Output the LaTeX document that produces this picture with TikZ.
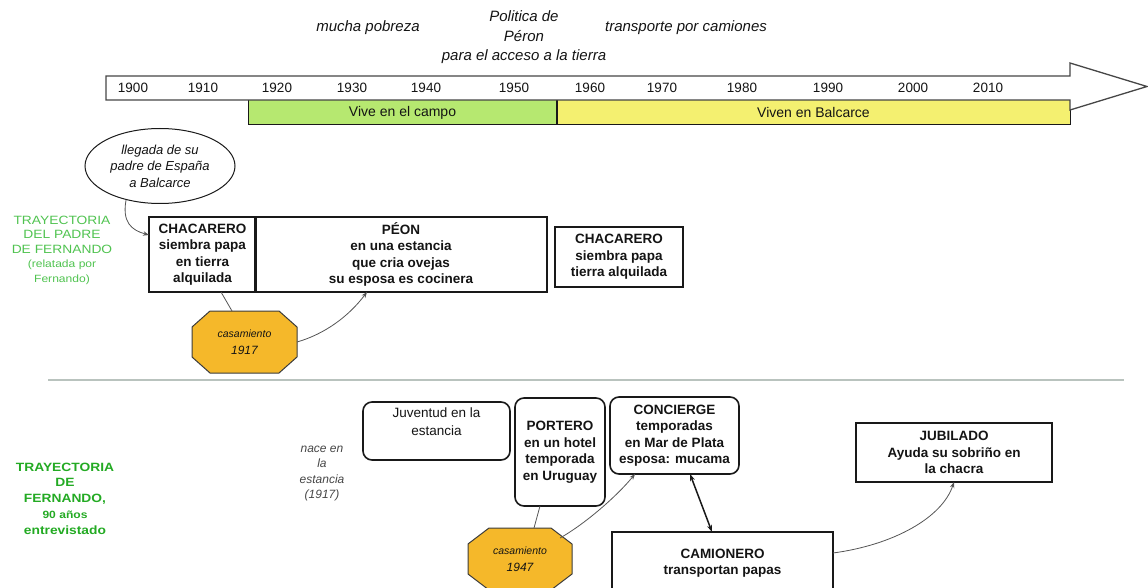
\documentclass[tikz,border=0pt]{standalone}
\usepackage{fontspec}
\setmainfont{Liberation Sans}
\newfontfamily\widesans[FakeStretch=1.15]{Liberation Sans}
\usetikzlibrary{shapes.geometric,arrows.meta,calc,backgrounds}
\definecolor{edge}{RGB}{25,25,25}
\definecolor{txt}{RGB}{20,20,20}
\definecolor{tl}{RGB}{70,70,70}
\definecolor{greenbar}{RGB}{182,232,112}
\definecolor{yellowbar}{RGB}{244,240,112}
\definecolor{gold}{RGB}{245,184,42}
\definecolor{lblgreen}{RGB}{80,195,80}
\definecolor{lblgreenb}{RGB}{35,170,35}
\definecolor{connc}{RGB}{85,85,85}
\definecolor{grayit}{RGB}{70,70,70}
\definecolor{sepc}{RGB}{185,195,190}
\begin{document}
\begin{tikzpicture}[x=1pt,y=-1pt,
  bx/.style={draw=edge,line width=1.6pt,inner sep=0pt,outer sep=0pt,align=center,text=txt,font=\fontsize{13.5}{16.5}\selectfont\bfseries},
  rbx/.style={bx,rounded corners=9pt},
  yr/.style={font=\fontsize{13.5}{16}\selectfont,text=txt,inner sep=0pt},
  topit/.style={font=\fontsize{15}{19.5}\selectfont\itshape,text=txt,align=center,inner sep=0pt},
  band/.style={draw=edge,line width=1pt,inner sep=0pt,outer sep=0pt,font=\fontsize{14}{16}\selectfont,text=txt},
  octtxt/.style={inner sep=0pt,outer sep=0pt,align=center,text=txt},
  octshape/.style={draw=edge!85,line width=1pt,fill=gold},
  conn/.style={draw=connc,line width=0.8pt,-{Stealth[length=6pt,width=4.5pt]}},
  plainconn/.style={draw=connc,line width=0.8pt},
]
\useasboundingbox (0,0) rectangle (1148,588);

% bands
\node[band,fill=greenbar,minimum width=309pt,minimum height=25pt] (campo) at (402.5,112.5) {Vive en el campo};
\node[band,fill=yellowbar,minimum width=513pt,minimum height=25pt] (balcarce) at (813.5,112.5) {Viven en Balcarce};
\draw[draw=edge,line width=2pt] (campo.north east) -- (campo.south east);

% timeline arrow
\draw[draw=tl,line width=1.3pt,fill=white,line join=miter] (106,76) -- (1070,76) -- (1070,63) -- (1147,86.5) -- (1070,110) -- (1070,100) -- (106,100) -- cycle;
\foreach \xx/\yy in {133/1900,203/1910,277/1920,352/1930,426/1940,514/1950,590/1960,662/1970,742/1980,828/1990,913/2000,988/2010}
  \node[yr] (y\yy) at (\xx,88) {\yy};

% top notes
\node[topit] (pobreza) at (368,28) {mucha pobreza};
\node[topit] (peron) at (524,37.5) {Politica de\\Péron\\para el acceso a la tierra};
\node[topit] (camiones) at (686,28) {transporte por camiones};

% father's trajectory
\node[align=center,text=lblgreen,inner sep=0pt,font=\widesans\fontsize{12}{14.5}\selectfont] (padre) at (62,250) {TRAYECTORIA\\DEL PADRE\\DE FERNANDO\\{\fontsize{10.5}{14.5}\selectfont(relatada por}\\{\fontsize{10.5}{14.5}\selectfont Fernando)}};

\node[ellipse,draw=edge,line width=1pt,minimum width=150pt,minimum height=75pt,inner sep=0pt,align=center,text=txt,font=\fontsize{13}{16.5}\selectfont\itshape] (ell) at (160,166) {llegada de su\\padre de España\\a Balcarce};

\node[bx,minimum width=107pt,minimum height=75pt] (chac1) at (202.5,254.5) {CHACARERO\\siembra papa\\en tierra\\alquilada};
\node[bx,minimum width=292pt,minimum height=75pt] (peon) at (401,254.5) {PÉON\\en una estancia\\que cria ovejas\\su esposa es cocinera};
\node[bx,minimum width=128pt,minimum height=60pt] (chac2) at (619,257) {CHACARERO\\siembra papa\\tierra alquilada};

\node[octtxt,minimum width=105pt,minimum height=62pt] (oct1) at (244.5,342) {{\fontsize{10.5}{12}\selectfont\itshape casamiento}\\[5pt]{\fontsize{12}{12}\selectfont\itshape 1917}};
\begin{scope}[on background layer]
\draw[octshape] ($(oct1.north west)+(18,0)$) -- ($(oct1.north east)+(-18,0)$) -- ($(oct1.north east)+(0,16)$) -- ($(oct1.south east)+(0,-16)$) -- ($(oct1.south east)+(-18,0)$) -- ($(oct1.south west)+(18,0)$) -- ($(oct1.south west)+(0,-16)$) -- ($(oct1.north west)+(0,16)$) -- cycle;
\end{scope}

\draw[conn] (ell.225) .. controls +(-4,22) and +(-18,-5) .. (chac1.160);
\draw[plainconn] ($(chac1.south)+(18.5,0)$) -- ($(oct1.north)+(-12.5,0)$);
\draw[conn] (oct1.east) .. controls +(28,-8) and +(-18,24) .. ($(peon.south)+(-34,0)$);

% separator
\draw[draw=sepc,line width=1.5pt] (48,380) -- (1124,380);

% Fernando's trajectory
\node[align=center,text=lblgreenb,inner sep=0pt,font=\widesans\fontsize{12}{15.8}\selectfont\bfseries] (fern) at (65,498.5) {TRAYECTORIA\\DE\\FERNANDO,\\{\fontsize{10.5}{15.8}\selectfont 90 años}\\entrevistado};

\node[align=center,text=grayit,inner sep=0pt,font=\fontsize{12}{15.5}\selectfont\itshape] (nace) at (322,473.5) {nace en\\la\\estancia\\(1917)};

\node[rbx,minimum width=147pt,minimum height=58pt,font=\fontsize{13.5}{18}\selectfont] (juv) at (436.5,431) {Juventud en la\\estancia\\\mbox{}};
\node[rbx,minimum width=90pt,minimum height=108pt] (port) at (560,452) {PORTERO\\en un hotel\\temporada\\en Uruguay};
\node[rbx,minimum width=129pt,minimum height=77pt] (conc) at (674.5,435.5) {CONCIERGE\\temporadas\\en Mar de Plata\\esposa: mucama};
\node[bx,minimum width=196pt,minimum height=59pt] (jub) at (954,452.5) {JUBILADO\\Ayuda su sobriño en\\la chacra};
\node[bx,minimum width=221pt,minimum height=62pt] (cam) at (722.5,563) {CAMIONERO\\transportan papas};

\node[octtxt,minimum width=104pt,minimum height=62pt] (oct2) at (520,559) {{\fontsize{10.5}{12}\selectfont\itshape casamiento}\\[5pt]{\fontsize{12}{12}\selectfont\itshape 1947}};
\begin{scope}[on background layer]
\draw[octshape] ($(oct2.north west)+(21,0)$) -- ($(oct2.north east)+(-21,0)$) -- ($(oct2.north east)+(0,16)$) -- ($(oct2.south east)+(0,-16)$) -- ($(oct2.south east)+(-21,0)$) -- ($(oct2.south west)+(21,0)$) -- ($(oct2.south west)+(0,-16)$) -- ($(oct2.north west)+(0,16)$) -- cycle;
\end{scope}

\draw[plainconn] ($(port.south)+(-20,0)$) -- ($(oct2.north)+(14,0)$);
\draw[conn] ($(oct2.north east)+(-12,10)$) .. controls +(25,-14) and +(-18,22) .. ($(conc.south)+(-39.5,0)$);
\draw[draw=edge,line width=1.5pt,{Stealth[length=7pt,width=5pt]}-{Stealth[length=7pt,width=5pt]}] ($(conc.south)+(15.5,0)$) -- ($(cam.north)+(-10.5,0)$);
\draw[conn] ($(cam.east)+(0,-10)$) .. controls +(60,-8) and +(-12,36) .. (jub.south);
\end{tikzpicture}
\end{document}
